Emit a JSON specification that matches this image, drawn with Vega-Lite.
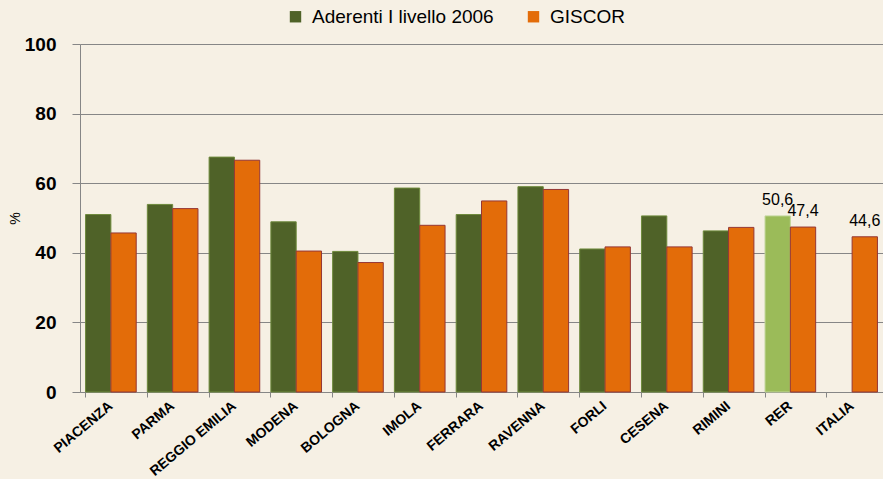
{
  "$schema": "https://vega.github.io/schema/vega-lite/v6.json",
  "autosize": {"type": "none"},
  "width": 803,
  "height": 348,
  "padding": {"left": 80, "top": 44, "right": 0, "bottom": 87},
  "background": "#f6f0e4",
  "config": {
    "view": {"stroke": null},
    "font": "Liberation Sans",
    "locale": {"number": {"decimal": ",", "thousands": ".", "grouping": [3], "currency": ["", " €"]}}
  },
  "data": {
    "values": [
      {"region": "PIACENZA", "series": "Aderenti I livello 2006", "value": 51.0},
      {"region": "PIACENZA", "series": "GISCOR", "value": 45.7},
      {"region": "PARMA", "series": "Aderenti I livello 2006", "value": 53.9},
      {"region": "PARMA", "series": "GISCOR", "value": 52.7},
      {"region": "REGGIO EMILIA", "series": "Aderenti I livello 2006", "value": 67.5},
      {"region": "REGGIO EMILIA", "series": "GISCOR", "value": 66.6},
      {"region": "MODENA", "series": "Aderenti I livello 2006", "value": 48.9},
      {"region": "MODENA", "series": "GISCOR", "value": 40.5},
      {"region": "BOLOGNA", "series": "Aderenti I livello 2006", "value": 40.4},
      {"region": "BOLOGNA", "series": "GISCOR", "value": 37.2},
      {"region": "IMOLA", "series": "Aderenti I livello 2006", "value": 58.6},
      {"region": "IMOLA", "series": "GISCOR", "value": 47.9},
      {"region": "FERRARA", "series": "Aderenti I livello 2006", "value": 51.0},
      {"region": "FERRARA", "series": "GISCOR", "value": 54.9},
      {"region": "RAVENNA", "series": "Aderenti I livello 2006", "value": 59.0},
      {"region": "RAVENNA", "series": "GISCOR", "value": 58.2},
      {"region": "FORLI", "series": "Aderenti I livello 2006", "value": 41.1},
      {"region": "FORLI", "series": "GISCOR", "value": 41.7},
      {"region": "CESENA", "series": "Aderenti I livello 2006", "value": 50.6},
      {"region": "CESENA", "series": "GISCOR", "value": 41.7},
      {"region": "RIMINI", "series": "Aderenti I livello 2006", "value": 46.3},
      {"region": "RIMINI", "series": "GISCOR", "value": 47.3},
      {"region": "RER", "series": "Aderenti I livello 2006", "value": 50.6},
      {"region": "RER", "series": "GISCOR", "value": 47.4},
      {"region": "ITALIA", "series": "GISCOR", "value": 44.6}
    ]
  },
  "resolve": {"axis": {"x": "independent"}},
  "layer": [
    {
      "mark": {"type": "bar", "strokeWidth": 1},
      "encoding": {
        "x": {
          "field": "region", "type": "nominal",
          "scale": {"domain": ["PIACENZA","PARMA","REGGIO EMILIA","MODENA","BOLOGNA","IMOLA","FERRARA","RAVENNA","FORLI","CESENA","RIMINI","RER","ITALIA"], "paddingInner": 0.18, "paddingOuter": 0.09},
          "axis": {"orient": "bottom", "title": null, "labels": false, "bandPosition": 0, "ticks": true, "tickSize": 5, "tickColor": "#868686", "domainColor": "#868686", "grid": false}
        },
        "xOffset": {"field": "series", "type": "nominal", "scale": {"domain": ["Aderenti I livello 2006", "GISCOR"], "paddingInner": 0, "paddingOuter": 0}},
        "y": {
          "field": "value", "type": "quantitative",
          "scale": {"domain": [0, 100]},
          "axis": {
            "title": "%", "titleFontWeight": "normal", "titleFontSize": 14, "titleColor": "#000", "titleX": -58, "titlePadding": 0,
            "values": [0, 20, 40, 60, 80, 100],
            "labelFontSize": 19, "labelFontWeight": "bold", "labelColor": "#000", "labelPadding": 16,
            "tickSize": 8, "tickColor": "#868686", "gridColor": "#868686", "gridOpacity": 1, "domainColor": "#868686"
          }
        },
        "color": {
          "field": "series", "type": "nominal",
          "scale": {"domain": ["Aderenti I livello 2006", "GISCOR"], "range": ["#4f6228", "#e36c09"]},
          "condition": {"test": "datum.region === 'RER' && datum.series === 'Aderenti I livello 2006'", "value": "#9bbb59"},
          "legend": {
            "title": null, "orient": "none", "direction": "horizontal", "legendX": 206, "legendY": -37,
            "symbolType": "square", "symbolSize": 130, "symbolStrokeWidth": 0, "symbolOpacity": 1,
            "labelFontSize": 19, "labelColor": "#000", "labelOffset": 7, "columnPadding": 30, "labelLimit": 400
          }
        },
        "stroke": {
          "condition": [
            {"test": "datum.series === 'GISCOR'", "value": "#953735"},
            {"test": "datum.region === 'RER'", "value": "#c3d69b"}
          ],
          "value": "#6e8a3c"
        }
      }
    },
    {
      "transform": [{"filter": "datum.region === 'RER' || datum.region === 'ITALIA'"}],
      "mark": {"type": "text", "baseline": "alphabetic", "align": "center", "dy": -11, "fontSize": 16, "color": "#000"},
      "encoding": {
        "x": {
          "field": "region", "type": "nominal",
          "scale": {"domain": ["PIACENZA","PARMA","REGGIO EMILIA","MODENA","BOLOGNA","IMOLA","FERRARA","RAVENNA","FORLI","CESENA","RIMINI","RER","ITALIA"], "paddingInner": 0.18, "paddingOuter": 0.09},
          "axis": {"orient": "bottom", "title": null, "labels": true, "ticks": false, "domain": false, "grid": false, "labelAngle": -40, "labelAlign": "right", "labelBaseline": "middle", "labelFontSize": 14, "labelFontWeight": "bold", "labelColor": "#000", "labelPadding": 12, "labelLimit": 300}
        },
        "xOffset": {"field": "series", "type": "nominal", "scale": {"domain": ["Aderenti I livello 2006", "GISCOR"], "paddingInner": 0, "paddingOuter": 0}},
        "y": {"field": "value", "type": "quantitative"},
        "text": {"field": "value", "type": "quantitative", "format": ".1f"}
      }
    }
  ]
}
